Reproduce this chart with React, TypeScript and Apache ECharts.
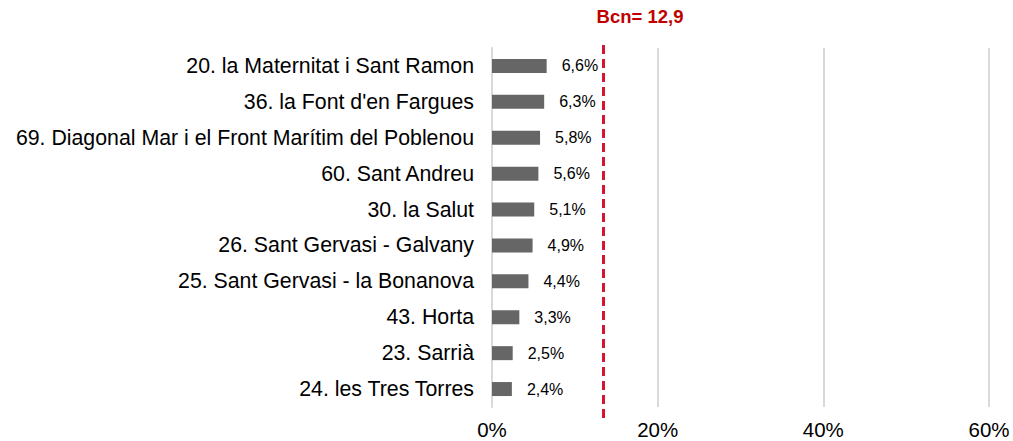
import React, { useEffect, useRef } from "react";
import * as echarts from "echarts";

const categories = [
  "20. la Maternitat i Sant Ramon",
  "36. la Font d'en Fargues",
  "69. Diagonal Mar i el Front Marítim del Poblenou",
  "60. Sant Andreu",
  "30. la Salut",
  "26. Sant Gervasi - Galvany",
  "25. Sant Gervasi - la Bonanova",
  "43. Horta",
  "23. Sarrià",
  "24. les Tres Torres",
];
const values = [6.6, 6.3, 5.8, 5.6, 5.1, 4.9, 4.4, 3.3, 2.5, 2.4];
const xTicks = [0, 20, 40, 60];
const bcnLabel = "Bcn= 12,9";
const bcnLinePos = 13.4;

export default function App() {
  const ref = useRef<HTMLDivElement>(null);
  useEffect(() => {
    if (!ref.current) return;
    const chart = echarts.init(ref.current, null, { renderer: "svg" });
    const font = "Liberation Sans, Arial, sans-serif";
    chart.setOption({
      animation: false,
      grid: [
        { left: 492, right: 24, top: 48, bottom: 34, containLabel: false, outerBoundsMode: "none" },
        { left: 492, right: 24, top: 40, bottom: 23, containLabel: false, outerBoundsMode: "none" },
      ],
      xAxis: [
        {
          gridIndex: 0,
          type: "value",
          min: xTicks[0],
          max: xTicks[xTicks.length - 1],
          interval: 20,
          axisLine: { show: false },
          axisTick: { show: false },
          splitLine: { show: true, lineStyle: { color: "#d9d9d9", width: 2 } },
          axisLabel: {
            formatter: (v: number) => v + "%",
            color: "#000",
            fontSize: 20.5,
            fontFamily: font,
            margin: 12,
          },
        },
        {
          gridIndex: 1,
          type: "value",
          min: 0,
          max: 60,
          show: false,
        },
      ],
      yAxis: [
        {
          gridIndex: 0,
          type: "category",
          data: categories,
          inverse: true,
          axisLine: { show: true, lineStyle: { color: "#d9d9d9", width: 2 } },
          axisTick: { show: false },
          axisLabel: {
            color: "#000",
            fontSize: 21.3,
            fontFamily: font,
            margin: 18,
          },
        },
        { gridIndex: 1, type: "category", data: ["a"], show: false },
      ],
      series: [
        {
          type: "bar",
          xAxisIndex: 0,
          yAxisIndex: 0,
          data: values,
          barWidth: 14,
          itemStyle: { color: "#666666" },
          label: {
            show: true,
            position: "right",
            distance: 15,
            color: "#000",
            fontSize: 16,
            fontFamily: font,
            formatter: (p: any) => String(p.value).replace(".", ",") + "%",
          },
        },
        {
          type: "bar",
          xAxisIndex: 1,
          yAxisIndex: 1,
          data: [],
          markLine: {
            silent: true,
            symbol: "none",
            lineStyle: { color: "#d7152f", width: 3, type: [9, 5] },
            label: {
              show: true,
              position: "end",
              formatter: bcnLabel,
              color: "#c00000",
              fontWeight: "bold",
              fontSize: 18.5,
              fontFamily: font,
              offset: [37, 0],
              distance: 14,
            },
            data: [{ xAxis: bcnLinePos }],
          },
        },
      ],
    });
    return () => chart.dispose();
  }, []);
  return (
    <div
      ref={ref}
      style={{ position: "fixed", left: 0, top: 0, width: 1013, height: 441, background: "#fff" }}
    />
  );
}
